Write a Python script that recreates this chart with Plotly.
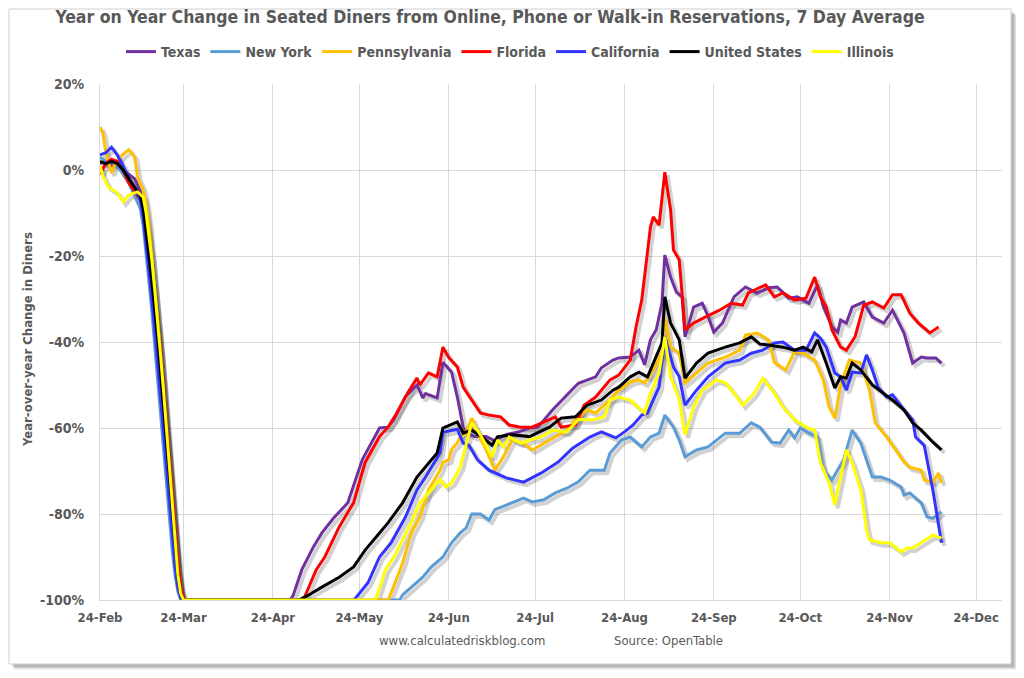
import plotly.graph_objects as go
from datetime import date, timedelta

# ---------------- data (2020, 7-day average YoY change, %) ----------------
TICK_DATES = ["2020-02-24", "2020-03-24", "2020-04-24", "2020-05-24", "2020-06-24", "2020-07-24",
              "2020-08-24", "2020-09-24", "2020-10-24", "2020-11-24", "2020-12-24"]
TICK_TEXT = ["24-Feb", "24-Mar", "24-Apr", "24-May", "24-Jun", "24-Jul",
             "24-Aug", "24-Sep", "24-Oct", "24-Nov", "24-Dec"]
Y_TICKS = [-100, -80, -60, -40, -20, 0, 20]
Y_TEXT = ["-100%", "-80%", "-60%", "-40%", "-20%", "0%", "20%"]

SERIES = ["Texas", "New York", "Pennsylvania", "Florida", "California", "United States", "Illinois"]
COLORS = ["#7030A0", "#5B9BD5", "#FFC000", "#FF0000", "#3333FF", "#000000", "#FFFF00"]

TX_DATES = ["02-24", "02-26", "02-28", "03-01", "03-03", "03-05", "03-07", "03-09", "03-10", "03-11",
            "03-12", "03-13", "03-14", "03-15", "03-16", "03-17", "03-18", "03-19", "03-20", "03-21",
            "03-22", "03-23", "03-24", "04-30", "05-01", "05-04", "05-08", "05-11", "05-15", "05-20",
            "05-25", "05-31", "06-03", "06-05", "06-09", "06-13", "06-15", "06-16", "06-20", "06-22",
            "06-25", "06-27", "06-29", "06-30", "07-03", "07-07", "07-10", "07-14", "07-18", "07-22",
            "07-25", "07-30", "08-04", "08-08", "08-14", "08-16", "08-20", "08-22", "08-26", "08-29",
            "08-31", "09-02", "09-04", "09-06", "09-07", "09-09", "09-11", "09-13", "09-14", "09-17",
            "09-20", "09-22", "09-24", "09-27", "10-01", "10-05", "10-09", "10-13", "10-16", "10-20",
            "10-23", "10-27", "10-30", "11-01", "11-04", "11-06", "11-07", "11-09", "11-11", "11-15",
            "11-18", "11-22", "11-25", "11-29", "12-02", "12-05", "12-07", "12-10", "12-12"]
TX_VALUES = [1.5, 2, 1.5, 1, 0, -1, -2, -5, -9, -14,
             -20, -26, -32, -38, -46, -54, -62, -70, -78, -86,
             -93, -98, -100, -100, -99, -93, -87.7, -84.4, -81, -77.4,
             -67.4, -60, -59.8, -58, -52.7, -50, -53, -52, -53, -44.7,
             -47, -52.8, -59.8, -61, -62, -62, -63, -61.5, -61, -60,
             -59.8, -55.8, -52.3, -49.6, -48.1, -46, -44.2, -43.7, -43.5, -41.9,
             -45.3, -39.5, -37.2, -31, -19.8, -24.9, -28.4, -29.5, -38.8, -31.9,
             -31, -34, -37.7, -35.6, -29.5, -27.2, -28.6, -27.4, -27.2, -29.8,
             -29.5, -31, -26.7, -31.8, -36.5, -37.7, -34.9, -35.6, -31.9, -30.7,
             -34.2, -35.6, -32.6, -37.9, -44.9, -43.5, -43.7, -43.7, -44.9]

NY_DATES = ["02-24", "02-26", "02-28", "03-01", "03-03", "03-05", "03-07", "03-09", "03-10", "03-11",
            "03-12", "03-13", "03-14", "03-15", "03-16", "03-17", "03-18", "03-19", "03-20", "03-21",
            "03-22", "03-23", "06-07", "06-08", "06-11", "06-15", "06-18", "06-22", "06-25", "06-28",
            "06-30", "07-02", "07-05", "07-08", "07-10", "07-16", "07-20", "07-23", "07-27", "07-31",
            "08-04", "08-08", "08-12", "08-17", "08-19", "08-23", "08-26", "08-30", "09-02", "09-05",
            "09-07", "09-10", "09-12", "09-14", "09-18", "09-22", "09-28", "10-03", "10-07", "10-10",
            "10-14", "10-17", "10-20", "10-22", "10-24", "10-27", "10-30", "11-01", "11-04", "11-08",
            "11-11", "11-14", "11-16", "11-18", "11-21", "11-24", "11-28", "11-29", "12-01", "12-05",
            "12-07", "12-09", "12-12"]
NY_VALUES = [3, 2, 2, 1, -1, -3, -6, -9, -13, -19,
             -26, -33, -41, -49, -57, -65, -73, -81, -88, -94,
             -98, -100, -100, -98.8, -97, -94.7, -92.3, -90, -86.7, -84.4,
             -83.3, -80, -80, -81.4, -79, -77.4, -76.3, -77.2, -76.7, -75.1,
             -74, -72.5, -69.8, -69.8, -65.8, -62.8, -62.1, -64.4, -62.1, -61.2,
             -57, -59.8, -62.8, -66.7, -65.1, -64.4, -61.2, -61.2, -58.8, -59.8,
             -63.3, -63.5, -60.5, -62.3, -60, -61.2, -62.1, -69.8, -72.1, -67.4,
             -60.5, -63.5, -67.4, -71.4, -71.4, -72.1, -73.7, -75.6, -75.1, -77.4,
             -80.7, -81, -79.5]

PA_DATES = ["02-24", "02-25", "02-26", "02-28", "02-29", "03-02", "03-04", "03-05", "03-07", "03-08",
            "03-10", "03-11", "03-12", "03-13", "03-14", "03-15", "03-16", "03-17", "03-18", "03-19",
            "03-20", "03-21", "03-22", "03-23", "03-24", "06-03", "06-04", "06-08", "06-11", "06-14",
            "06-17", "06-21", "06-22", "06-24", "06-25", "06-27", "06-28", "06-30", "07-02", "07-04",
            "07-07", "07-10", "07-13", "07-16", "07-20", "07-23", "07-27", "08-01", "08-04", "08-07",
            "08-11", "08-14", "08-19", "08-22", "08-26", "08-29", "08-31", "09-03", "09-06", "09-07",
            "09-09", "09-12", "09-14", "09-18", "09-22", "09-28", "10-03", "10-05", "10-09", "10-13",
            "10-15", "10-19", "10-22", "10-25", "10-29", "11-01", "11-03", "11-05", "11-07", "11-10",
            "11-14", "11-17", "11-19", "11-23", "11-26", "11-29", "12-01", "12-05", "12-06", "12-09",
            "12-11", "12-12"]
PA_VALUES = [10, 8.6, 4, -0.7, 1.2, 3, 4.2, 4.7, 3, -1.6,
             -4.7, -8, -13, -20, -27, -35, -43, -52, -61, -70,
             -79, -88, -95, -99, -100, -100, -98.4, -91.4, -84.4, -80.7,
             -74.4, -69.8, -68, -67.4, -65, -63.5, -62, -61.2, -57.7, -61.2,
             -65.1, -69.8, -66.7, -62.8, -63.5, -65.1, -63.5, -61.6, -60.5, -58.1,
             -55.8, -56.5, -53.5, -51.2, -49.3, -48.8, -49.5, -46.5, -42.6, -34.2,
             -41.2, -42.6, -49.5, -47.2, -44.9, -43.5, -41.9, -38.4, -37.9, -39.5,
             -44.7, -46.5, -42.3, -42.6, -44.2, -48.8, -55.1, -57.7, -50, -44.2,
             -44.9, -51.2, -58.8, -62.1, -65.1, -67.9, -69.1, -69.8, -72.1, -72.6,
             -70.5, -72.8]

FL_DATES = ["02-24", "02-26", "02-28", "03-01", "03-03", "03-05", "03-07", "03-09", "03-10", "03-11",
            "03-12", "03-13", "03-14", "03-15", "03-16", "03-17", "03-18", "03-19", "03-20", "03-21",
            "03-22", "03-23", "03-24", "03-25", "05-04", "05-05", "05-09", "05-12", "05-17", "05-22",
            "05-26", "05-31", "06-03", "06-06", "06-10", "06-13", "06-14", "06-17", "06-20", "06-22",
            "06-24", "06-27", "06-29", "07-02", "07-05", "07-08", "07-12", "07-15", "07-19", "07-23",
            "07-27", "07-31", "08-02", "08-07", "08-10", "08-14", "08-19", "08-22", "08-26", "08-28",
            "08-30", "09-02", "09-03", "09-05", "09-07", "09-09", "09-10", "09-12", "09-14", "09-17",
            "09-21", "09-26", "09-30", "10-04", "10-06", "10-12", "10-15", "10-18", "10-22", "10-26",
            "10-29", "10-31", "11-02", "11-04", "11-07", "11-09", "11-12", "11-15", "11-18", "11-22",
            "11-25", "11-28", "12-01", "12-04", "12-08", "12-11"]
FL_VALUES = [-1, 1.5, 2.5, 2, 0, -3, -5, -7, -9, -12,
             -17, -23, -29, -35, -42, -50, -58, -66, -75, -84,
             -91, -97, -99.5, -100, -100, -99.3, -93, -90, -83, -77.4,
             -68, -62, -59.8, -56.5, -51.6, -48.4, -50, -47.2, -48.1, -41.2,
             -43.6, -45.8, -50.5, -53.5, -56.5, -57, -57.4, -59.3, -59.8, -59.8,
             -58.6, -57.4, -59.8, -59.3, -54.7, -52.8, -48.8, -47.7, -44.2, -36.5,
             -30.2, -13.3, -10.9, -12.8, -0.5, -9.3, -18.6, -20.9, -37.2, -35.6,
             -34.2, -32.6, -31, -31.4, -28.6, -26.7, -29.5, -28.6, -30.2, -29.8,
             -24.9, -29.5, -31.9, -37.2, -41.2, -41.9, -38.8, -31.5, -30.7, -32.1,
             -29, -29, -33.3, -35.6, -37.9, -36.5]

CA_DATES = ["02-24", "02-26", "02-28", "02-29", "03-01", "03-03", "03-05", "03-07", "03-09", "03-10",
            "03-11", "03-12", "03-13", "03-14", "03-15", "03-16", "03-17", "03-18", "03-19", "03-20",
            "03-21", "03-22", "03-23", "03-24", "05-22", "05-23", "05-27", "05-31", "06-04", "06-09",
            "06-13", "06-16", "06-21", "06-22", "06-27", "06-29", "07-01", "07-04", "07-08", "07-14",
            "07-20", "07-26", "08-01", "08-06", "08-12", "08-16", "08-21", "08-24", "08-27", "08-30",
            "09-01", "09-05", "09-07", "09-10", "09-12", "09-14", "09-18", "09-22", "09-28", "10-03",
            "10-07", "10-11", "10-15", "10-18", "10-22", "10-26", "10-29", "10-31", "11-02", "11-05",
            "11-07", "11-09", "11-11", "11-14", "11-16", "11-18", "11-20", "11-23", "11-25", "11-29",
            "12-02", "12-03", "12-05", "12-06", "12-09", "12-12"]
CA_VALUES = [3.5, 4, 5.3, 4.5, 3.5, 1, -2, -4, -7, -11,
             -17, -23, -30, -37, -45, -53, -61, -69, -77, -85,
             -92, -97, -99.5, -100, -100, -99.3, -96, -90, -86.7, -80.7,
             -74.4, -71.4, -65.8, -61, -60.3, -63.5, -64, -67.4, -69.8, -71.6,
             -72.6, -70.5, -67.9, -64.7, -62.1, -60.9, -62.3, -60.9, -59.3, -57,
             -56.5, -50.5, -38.8, -45.8, -48.1, -54.7, -51.2, -48.1, -44.9, -44.2,
             -42.6, -41.9, -40.2, -40, -41.9, -41.9, -37.9, -39.1, -41.2, -47.2,
             -48.1, -51.2, -47, -47.2, -43, -46.5, -50.5, -52.8, -52.3, -55.8,
             -58.1, -62.1, -63.5, -64, -74.4, -86.7]

US_DATES = ["02-24", "02-26", "02-28", "03-01", "03-03", "03-05", "03-07", "03-09", "03-10", "03-11",
            "03-12", "03-13", "03-14", "03-15", "03-16", "03-17", "03-18", "03-19", "03-20", "03-21",
            "03-22", "03-23", "03-24", "05-03", "05-06", "05-11", "05-17", "05-22", "05-26", "05-31",
            "06-03", "06-08", "06-13", "06-16", "06-20", "06-22", "06-27", "06-29", "07-02", "07-06",
            "07-09", "07-11", "07-16", "07-22", "07-29", "08-02", "08-07", "08-11", "08-16", "08-20",
            "08-22", "08-26", "08-29", "09-01", "09-03", "09-06", "09-07", "09-09", "09-12", "09-14",
            "09-18", "09-22", "09-28", "10-03", "10-07", "10-10", "10-13", "10-18", "10-22", "10-25",
            "10-28", "10-30", "11-02", "11-05", "11-07", "11-09", "11-11", "11-14", "11-18", "11-22",
            "11-25", "11-29", "12-02", "12-05", "12-09", "12-12"]
US_VALUES = [2, 1.5, 2, 1.5, 0, -2, -4, -6, -9, -14,
             -20, -26, -32, -39, -47, -55, -63, -71, -79, -87,
             -94, -98.5, -100, -100, -99, -97, -94.7, -92.3, -88.4, -84.4,
             -82, -77.4, -71.4, -69, -65.8, -60, -58.6, -61.2, -60.5, -62.3,
             -64, -62, -61.6, -62, -59.8, -57.7, -57.4, -54.7, -53.5, -51.2,
             -50.5, -48.1, -47, -48.1, -44.9, -40.2, -29.5, -35.6, -39.5, -48.4,
             -44.9, -42.6, -41.2, -40.2, -38.8, -40.5, -40.7, -41.2, -41.9, -41.2,
             -42.3, -39.5, -44.9, -50.7, -48.1, -48.4, -44.9, -46.5, -50, -51.9,
             -53.5, -55.8, -58.8, -60.5, -63.3, -65.1]

IL_DATES = ["02-24", "02-25", "02-27", "03-01", "03-03", "03-05", "03-08", "03-10", "03-11", "03-12",
            "03-13", "03-14", "03-15", "03-16", "03-17", "03-18", "03-19", "03-20", "03-21", "03-22",
            "03-23", "03-24", "05-29", "05-30", "06-02", "06-05", "06-08", "06-11", "06-14", "06-17",
            "06-21", "06-23", "06-25", "06-28", "07-02", "07-04", "07-06", "07-09", "07-11", "07-13",
            "07-15", "07-19", "07-22", "07-26", "07-30", "08-04", "08-08", "08-13", "08-17", "08-19",
            "08-22", "08-26", "08-31", "09-02", "09-05", "09-07", "09-09", "09-12", "09-14", "09-17",
            "09-20", "09-25", "09-28", "10-01", "10-04", "10-08", "10-11", "10-15", "10-18", "10-22",
            "10-26", "10-29", "10-31", "11-03", "11-05", "11-06", "11-09", "11-11", "11-14", "11-16",
            "11-17", "11-21", "11-24", "11-28", "11-30", "12-02", "12-05", "12-09", "12-12"]
IL_VALUES = [1, -1.5, -4, -5.3, -7.4, -5.8, -5.1, -6.3, -10, -15,
             -21, -28, -35, -43, -51, -60, -69, -78, -87, -94,
             -98.5, -100, -100, -99.3, -93, -90, -86, -82, -77.4, -75,
             -72, -73.7, -72.8, -69.1, -58.8, -60.5, -62.8, -66.7, -62.8, -64.4,
             -62.1, -63.5, -62.8, -62.1, -60.5, -60.9, -58, -58.1, -57.4, -53.5,
             -52.8, -53.5, -56.5, -51.9, -47.2, -38.8, -48.1, -53.5, -61.6, -55.1,
             -51.2, -48.8, -49.5, -51.9, -54.7, -51.9, -48.4, -51.9, -55.1, -58.1,
             -59.8, -60.5, -68.1, -72.8, -77.9, -74.4, -65.1, -68.1, -74.4, -83.7,
             -86, -86.7, -86.7, -88.8, -87.9, -87.9, -86.7, -84.9, -85.6]

YEAR = "2020-"
DATA = [(TX_DATES, TX_VALUES), (NY_DATES, NY_VALUES), (PA_DATES, PA_VALUES), (FL_DATES, FL_VALUES),
        (CA_DATES, CA_VALUES), (US_DATES, US_VALUES), (IL_DATES, IL_VALUES)]

X_START = date(2020, 2, 24)
X_END = date(2021, 1, 2)

# ---------------- layout geometry ----------------
# the page body has an 8px margin, so the figure is drawn 8px in from the window corner
OFF = 8
W, H = 1024 - OFF, 678 - OFF
ML, MR, MT, MB = 100 - OFF, 22, 84 - OFF, 78
PW, PH = W - ML - MR, H - MT - MB


def px_x(px):
    """window pixel -> paper x"""
    return (px - OFF - ML) / PW


def px_y(py):
    """window pixel -> paper y"""
    return (H - MB - (py - OFF)) / PH


FONT = "Liberation Sans Narrow, DejaVu Sans Condensed, Arial Narrow, sans-serif"
TXT = "#595959"
GRID = "#D9D9D9"

fig = go.Figure()

# empty trace that anchors the visible axes (x / y)
fig.add_trace(go.Scatter(x=[], y=[], mode="lines", showlegend=False, hoverinfo="skip"))

# shadows (hidden overlay axes shifted by a few pixels)
for (d, v), name in zip(DATA, SERIES):
    fig.add_trace(go.Scatter(
        x=[YEAR + s for s in d], y=v, mode="lines", xaxis="x2", yaxis="y2",
        line=dict(color="rgba(0,0,0,0.18)", width=4), showlegend=False, hoverinfo="skip"))

for (d, v), name, col in zip(DATA, SERIES, COLORS):
    fig.add_trace(go.Scatter(
        x=[YEAR + s for s in d], y=v, mode="lines", name=name, xaxis="x3", yaxis="y3",
        line=dict(color=col, width=3)))

shift_days = 1
shift_pct = 0.7
fig.update_layout(
    width=W, height=H,
    margin=dict(l=ML, r=MR, t=MT, b=MB, autoexpand=False),
    paper_bgcolor="white", plot_bgcolor="white",
    font=dict(family=FONT, color=TXT),
    title=dict(text="Year on Year Change in Seated Diners from Online, Phone or Walk-in Reservations, 7 Day Average",
               x=(490 - OFF) / W, xanchor="center", y=1 - (17 - OFF) / H, yanchor="middle",
               font=dict(size=17.5, color=TXT, family=FONT, weight="bold")),
    legend=dict(orientation="h", xref="container", yref="container", x=(510 - OFF) / W, xanchor="center",
                y=1 - (52 - OFF) / H, yanchor="middle",
                font=dict(size=14, color=TXT, family=FONT, weight="bold"),
                itemwidth=30, bgcolor="rgba(0,0,0,0)"),
    xaxis=dict(type="date", range=[X_START.isoformat(), X_END.isoformat()],
               tickmode="array", tickvals=TICK_DATES, ticktext=TICK_TEXT,
               showgrid=True, gridcolor=GRID, gridwidth=1, showline=True, linecolor=GRID,
               ticks="", ticklabelstandoff=5,
               tickfont=dict(size=13, color=TXT, family=FONT, weight="bold")),
    yaxis=dict(range=[-100, 20], tickmode="array", tickvals=Y_TICKS, ticktext=Y_TEXT,
               showgrid=True, gridcolor=GRID, gridwidth=1, zeroline=False, showline=True,
               linecolor=GRID, ticks="", ticklabelstandoff=12,
               tickfont=dict(size=14, color=TXT, family=FONT, weight="bold")),
    xaxis2=dict(type="date", overlaying="x", visible=False,
                range=[(X_START - timedelta(days=shift_days)).isoformat(),
                       (X_END - timedelta(days=shift_days)).isoformat()]),
    yaxis2=dict(overlaying="y", visible=False, range=[-100 + shift_pct, 20 + shift_pct]),
    xaxis3=dict(type="date", overlaying="x", visible=False,
                range=[X_START.isoformat(), X_END.isoformat()]),
    yaxis3=dict(overlaying="y", visible=False, range=[-100, 20]),
    showlegend=True,
)

# chart frame with soft shadow (window pixel coordinates)
shapes = []
for off, alpha in [(6, 0.05), (5, 0.07), (4, 0.09), (3, 0.1)]:
    shapes.append(dict(type="rect", xref="paper", yref="paper", layer="below",
                       x0=px_x(9 + off), x1=px_x(1011 + off), y0=px_y(664 + off), y1=px_y(9 + off),
                       fillcolor=f"rgba(0,0,0,{alpha})", line=dict(width=0)))
shapes.append(dict(type="rect", xref="paper", yref="paper", layer="below",
                   x0=px_x(9), x1=px_x(1011), y0=px_y(664), y1=px_y(9),
                   fillcolor="white", line=dict(color="#D0D0D0", width=1)))
fig.update_layout(shapes=shapes)

fig.add_annotation(text="Year-over-year Change in Diners", xref="paper", yref="paper",
                   x=px_x(27), y=px_y(340), textangle=-90, showarrow=False,
                   xanchor="center", yanchor="middle",
                   font=dict(size=13, color=TXT, family=FONT, weight="bold"))
fig.add_annotation(text="www.calculatedriskblog.com", xref="paper", yref="paper",
                   x=px_x(462), y=px_y(640), showarrow=False, xanchor="center", yanchor="middle",
                   font=dict(size=13, color=TXT, family=FONT))
fig.add_annotation(text="Source: OpenTable", xref="paper", yref="paper",
                   x=px_x(668), y=px_y(640), showarrow=False, xanchor="center", yanchor="middle",
                   font=dict(size=13, color=TXT, family=FONT))

fig.write_html("out.html", config={"displayModeBar": False})
